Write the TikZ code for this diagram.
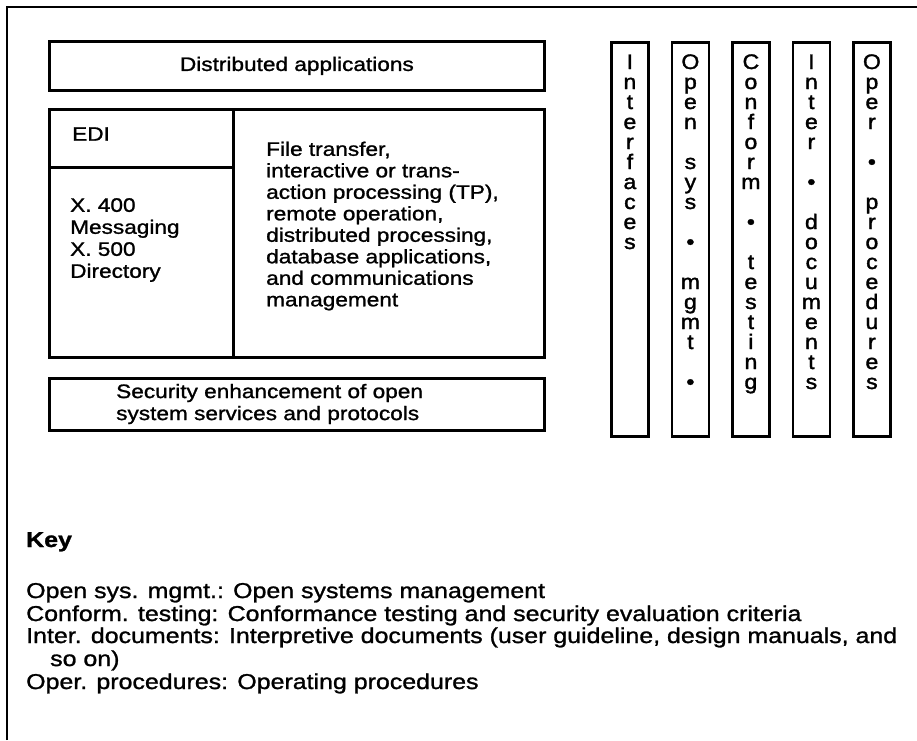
\documentclass[tikz,border=0pt]{standalone}
\usepackage{fontspec}
\setmainfont{Liberation Sans}[FakeStretch=1.16, FakeBold=1.2]
\newfontfamily\colfont{Liberation Sans}[FakeStretch=1.1, FakeBold=1.6]
\usetikzlibrary{calc}
\begin{document}
\begin{tikzpicture}[x=1pt,y=-1pt,
  box/.style={draw, line width=2.8pt, inner sep=0pt, anchor=north west},
  boxtext/.style={inner sep=0pt, font=\fontsize{19.5}{21.5}\selectfont, align=left},
  colletter/.style={inner sep=0pt, anchor=base, font=\colfont\fontsize{21}{21}\selectfont},
  keytext/.style={inner sep=0pt, anchor=base west, font=\fontsize{21.5}{23}\selectfont}]
\useasboundingbox (0,0) rectangle (917,740);
\fill[white] (0,0) rectangle (917,740);
% outer frame
\coordinate (fbl) at (7,740);
\coordinate (ftl) at (7,7);
\coordinate (ftr) at (917,7);
\draw[line width=2.2pt] (fbl) -- (ftl) -- (ftr);
% left stack
\node[box, minimum width=495, minimum height=49] (dist) at (48,40) {};
\node[boxtext, align=center] (disttext) at (dist.center) {Distributed applications};
\node[box, minimum width=184, minimum height=58] (edi) at (48,108) {};
\node[box, minimum width=184, minimum height=190] (x400) at (48,166) {};
\node[box, minimum width=311, minimum height=248] (ft) at (232,108) {};
\node[boxtext, anchor=west] (editext) at (72,134) {EDI};
\node[boxtext, anchor=west, font=\fontsize{19.5}{22}\selectfont] (x400text) at (70,240)
  {X. 400\\Messaging\\X. 500\\Directory};
\node[boxtext, anchor=west] (fttext) at (266,226)
  {File transfer,\\interactive or trans-\\action processing (TP),\\remote operation,\\distributed processing,\\database applications,\\and communications\\management};
\node[box, minimum width=495, minimum height=52] (sec) at (48,377) {};
\node[boxtext, anchor=west, font=\fontsize{19.5}{22}\selectfont] (sectext) at (116,404)
  {Security enhancement of open\\system services and protocols};
% vertical columns
\foreach \n/\x in {c1/610, c2/670.5, c3/731, c4/791.5, c5/852}
  \node[box, minimum width=37, minimum height=394] (\n) at (\x,41) {};
\foreach \ch [count=\i from 0] in {I,n,t,e,r,f,a,c,e,s}
  \node[colletter] (c1l\i) at ($(c1.north)+(0,28+20*\i)$) {\ch};
\foreach \ch [count=\i from 0] in {O,p,e,n,{},s,y,s,{},\textbullet,{},m,g,m,t,{},\textbullet}
  \node[colletter] (c2l\i) at ($(c2.north)+(0,28+20*\i)$) {\ch};
\foreach \ch [count=\i from 0] in {C,o,n,f,o,r,m,{},\textbullet,{},t,e,s,t,i,n,g}
  \node[colletter] (c3l\i) at ($(c3.north)+(0,28+20*\i)$) {\ch};
\foreach \ch [count=\i from 0] in {I,n,t,e,r,{},\textbullet,{},d,o,c,u,m,e,n,t,s}
  \node[colletter] (c4l\i) at ($(c4.north)+(0,28+20*\i)$) {\ch};
\foreach \ch [count=\i from 0] in {O,p,e,r,{},\textbullet,{},p,r,o,c,e,d,u,r,e,s}
  \node[colletter] (c5l\i) at ($(c5.north)+(0,28+20*\i)$) {\ch};
% key
\node[keytext, font=\fontsize{21.5}{23}\selectfont\bfseries] (key) at (26,547) {Key};
\node[keytext] (k1) at (26,598) {Open sys. mgmt.: Open systems management};
\node[keytext] (k2) at (26,621) {Conform. testing: Conformance testing and security evaluation criteria};
\node[keytext] (k3) at (26,643) {Inter. documents: Interpretive documents (user guideline, design manuals, and};
\node[keytext] (k4) at (50,666) {so on)};
\node[keytext] (k5) at (26,689) {Oper. procedures: Operating procedures};
\end{tikzpicture}
\end{document}
